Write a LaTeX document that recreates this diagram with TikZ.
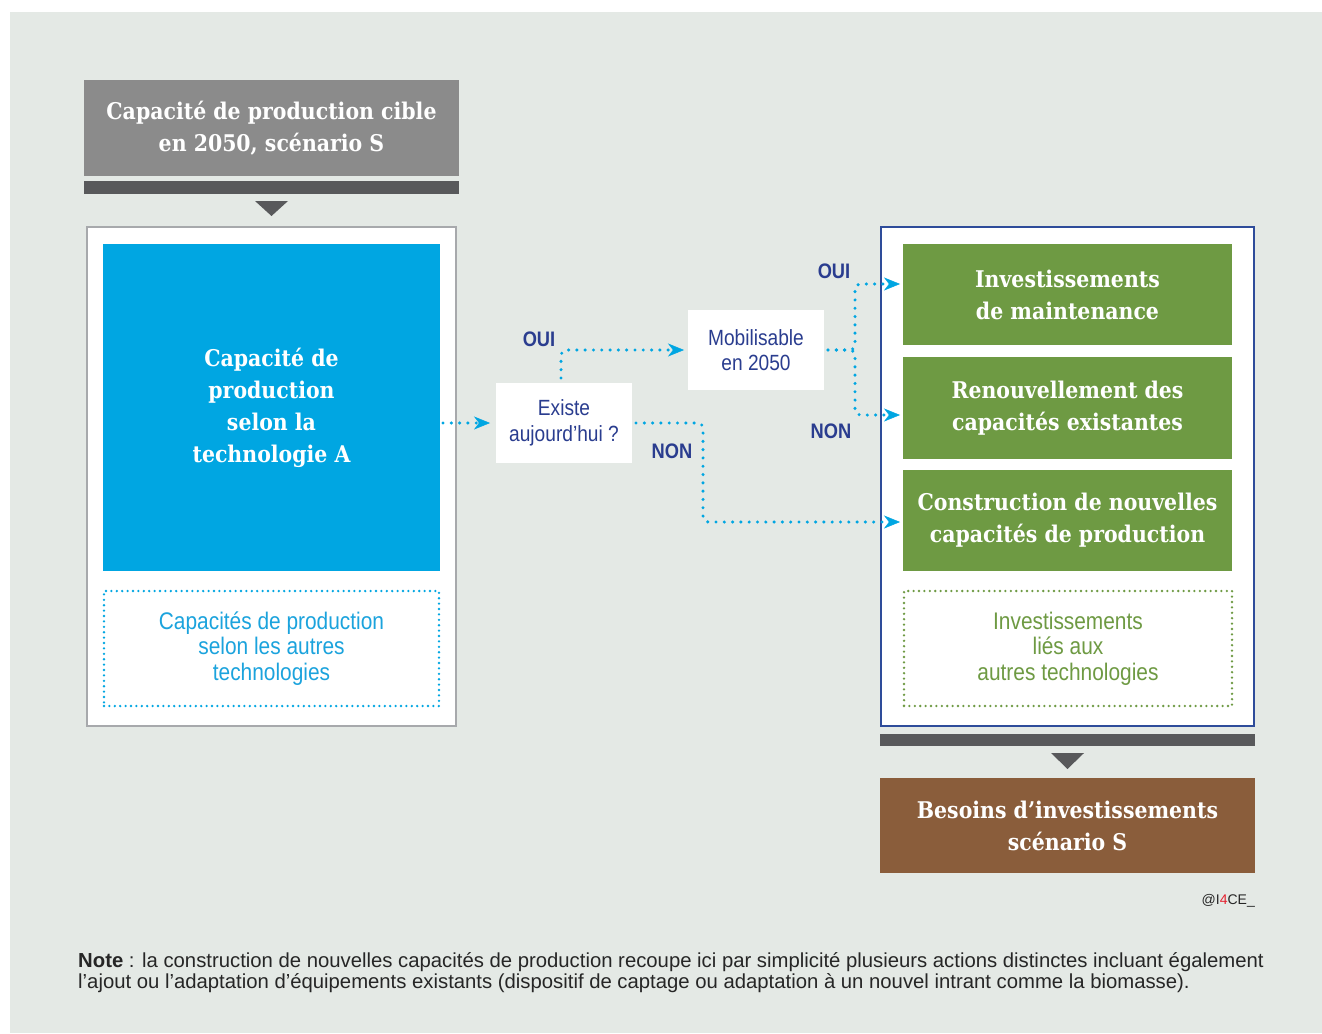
\documentclass[tikz,border=0pt]{standalone}
\usepackage{fontspec}
\setmainfont{Liberation Sans}
\newfontfamily\slab[FakeStretch=0.89]{DejaVu Serif}
\newfontfamily\cond[FakeStretch=0.87]{Liberation Sans}
\usetikzlibrary{arrows.meta}
\definecolor{bg}{HTML}{E4E9E5}
\definecolor{titlegray}{HTML}{8B8B8B}
\definecolor{bargray}{HTML}{58595B}
\definecolor{skyblue}{HTML}{00A6E2}
\definecolor{lightblue}{HTML}{1BA3DD}
\definecolor{navy}{HTML}{2A3D8F}
\definecolor{framenavy}{HTML}{2E4C9A}
\definecolor{leafgreen}{HTML}{6E9A43}
\definecolor{earth}{HTML}{8A5D3B}
\definecolor{framegray}{HTML}{A7A9AC}
\definecolor{redfour}{HTML}{E5202E}
\begin{document}
\begin{tikzpicture}[x=1pt,y=-1pt,
  box/.style={inner sep=0pt, outer sep=0pt, anchor=center},
  slabtxt/.style={font=\slab\bfseries\fontsize{23}{32}\selectfont, text=white, align=center},
  condtxt/.style={font=\cond\fontsize{24}{25.5}\selectfont, align=center},
  answer/.style={font=\cond\bfseries\fontsize{21}{24}\selectfont, text=navy},
  flow/.style={skyblue, line width=3.4pt, line cap=round, dash pattern=on 0pt off 8.3pt,
    rounded corners=5pt, -{Stealth[length=16pt,width=13pt,inset=5pt,line width=0.4pt]}},
  dotbox/.style={line width=2.6pt, line cap=round, dash pattern=on 0pt off 5.4pt}
]
\useasboundingbox (0,0) rectangle (1322,1033);
\fill[white] (0,0) rectangle (1322,1033);
\fill[bg] (10,12) rectangle (1322,1033);

% left column
\node[box, fill=titlegray, minimum width=375pt, minimum height=96pt, slabtxt] (title) at (271.5,128)
  {Capacité de production cible\\en 2050, scénario S};
\node[box, fill=bargray, minimum width=375pt, minimum height=13pt] (bar1) at (271.5,187.5) {};
\fill[bargray] (255,201) -- (288,201) -- (271.5,216) -- cycle;
\node[box, draw=framegray, line width=2pt, fill=white, minimum width=369pt, minimum height=499pt] (leftbox) at (271.5,476.5) {};
\node[box, fill=skyblue, minimum width=337pt, minimum height=327pt, slabtxt] (blueA) at (271.5,407.5)
  {Capacité de\\production\\selon la\\technologie A};
\node[box, draw=skyblue, dotbox, minimum width=335pt, minimum height=115pt, condtxt, text=lightblue] (otherA) at (271.5,648.5)
  {Capacités de production\\selon les autres\\technologies};

% middle
\node[box, fill=white, minimum width=136pt, minimum height=80pt, condtxt, font=\cond\fontsize{22}{26}\selectfont, text=navy] (exist) at (564,423)
  {Existe\\aujourd’hui ?};
\node[box, fill=white, minimum width=136pt, minimum height=80pt, condtxt, font=\cond\fontsize{22}{25}\selectfont, text=navy] (mobil) at (756,350)
  {Mobilisable\\en 2050};

% right column
\node[box, draw=framenavy, line width=2pt, fill=white, minimum width=373pt, minimum height=499pt] (rightbox) at (1067.5,476.5) {};
\node[box, fill=leafgreen, minimum width=329pt, minimum height=101pt, slabtxt] (green1) at (1067.5,294.5)
  {Investissements\\de maintenance};
\node[box, fill=leafgreen, minimum width=329pt, minimum height=102pt, slabtxt] (green2) at (1067.5,408)
  {Renouvellement des\\capacités existantes};
\node[box, fill=leafgreen, minimum width=329pt, minimum height=101pt, slabtxt] (green3) at (1067.5,520.5)
  {Construction de nouvelles\\capacités de production};
\node[box, draw=leafgreen, dotbox, minimum width=328pt, minimum height=115pt, condtxt, text=leafgreen] (otherG) at (1068,648.5)
  {Investissements\\liés aux\\autres technologies};
\node[box, fill=bargray, minimum width=375pt, minimum height=12pt] (bar2) at (1067.5,740) {};
\fill[bargray] (1051,753) -- (1084,753) -- (1067.5,769) -- cycle;
\node[box, fill=earth, minimum width=375pt, minimum height=95pt, slabtxt] (brown) at (1067.5,825.5)
  {Besoins d’investissements\\scénario S};

% connectors
\draw[flow, shorten <=3pt, shorten >=6pt] (blueA.east |- exist.west) -- (exist.west);
\draw[flow, shorten <=5pt, shorten >=4pt] ([xshift=-3pt]exist.north) |- (mobil.west);
\draw[flow, shorten <=4pt, shorten >=3pt] (exist.east) -- ++(71,0) |- ([yshift=-1.5pt]green3.west);
\draw[flow, shorten <=4pt, shorten >=3pt] (mobil.east) -- ++(31,0) |- ([yshift=10.5pt]green1.west);
\draw[flow, shorten <=4pt, shorten >=3pt] (mobil.east) -- ++(31,0) |- ([yshift=-7pt]green2.west);

% answers
\node[answer] (oui1) at (539,339) {OUI};
\node[answer] (non1) at (672,451) {NON};
\node[answer] (oui2) at (834,271) {OUI};
\node[answer] (non2) at (831,431) {NON};

% credit and note
\node[anchor=east, inner sep=0pt, font=\fontsize{14}{16}\selectfont, text=black!85] (credit) at (1255,901)
  {@I\textcolor{redfour}{4}CE\_};
\node[anchor=west, inner sep=0pt, align=left, font=\fontsize{20.3}{21}\selectfont, text=black!85] (note) at (78,973)
  {\textbf{Note} : la construction de nouvelles capacités de production recoupe ici par simplicité plusieurs actions distinctes incluant également\\l’ajout ou l’adaptation d’équipements existants (dispositif de captage ou adaptation à un nouvel intrant comme la biomasse).};
\end{tikzpicture}
\end{document}
